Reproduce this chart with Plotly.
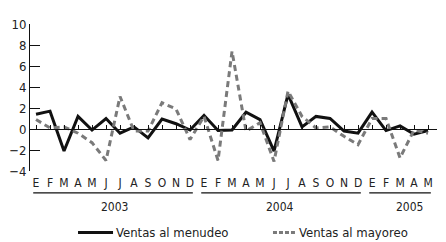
import plotly.graph_objects as go

months = ["E", "F", "M", "A", "M", "J", "J", "A", "S", "O", "N", "D",
          "E", "F", "M", "A", "M", "J", "J", "A", "S", "O", "N", "D",
          "E", "F", "M", "A", "M"]
years = ["2003", "2004", "2005"]
menudeo = [1.4, 1.7, -2.1, 1.2, -0.1, 1.0, -0.4, 0.2, -0.85, 0.95, 0.5, -0.1,
           1.3, -0.15, -0.1, 1.6, 0.9, -2.1, 3.3, 0.2, 1.2, 1.0, -0.2, -0.4,
           1.6, -0.15, 0.3, -0.5, -0.15]
mayoreo = [0.9, 0.1, 0.2, -0.4, -1.3, -3.0, 3.1, -0.2, -0.2, 2.5, 1.9, -1.0,
           1.2, -3.0, 7.4, -0.2, 0.6, -3.1, 3.6, 1.2, 0.1, 0.2, -0.7, -1.5,
           1.0, 1.0, -2.75, -0.1, -0.4]
yticks = [-4, -2, 0, 2, 4, 6, 8, 10]
series_names = ["Ventas al menudeo", "Ventas al mayoreo"]

FONT = "Liberation Sans Narrow, DejaVu Sans Condensed, Arial Narrow, sans-serif"
idx = list(range(len(months)))
SOLID = dict(color="#111111", width=3)
DASHED = dict(color="#7a7a7a", width=3, dash="6px,4px")

fig = go.Figure()
fig.add_trace(go.Scatter(x=idx, y=menudeo, mode="lines", name=series_names[0],
                         line=SOLID, showlegend=False))
fig.add_trace(go.Scatter(x=idx, y=mayoreo, mode="lines", name=series_names[1],
                         line=DASHED, showlegend=False))
# invisible trace for the zero-line axis
fig.add_trace(go.Scatter(x=idx, y=[0] * len(idx), xaxis="x2", mode="lines",
                         line=dict(width=0), showlegend=False, hoverinfo="skip"))

# year groups
groups = []
start = 0
for i in range(1, len(months) + 1):
    if i == len(months) or (months[i] == "E" and i != start):
        groups.append((start, i - 1))
        start = i
label_pos = [5.57, 17.4, 26.7]
for (a, b), yr, lp in zip(groups, years, label_pos):
    fig.add_shape(type="line", xref="x", yref="paper", x0=a - 0.2, x1=b + 0.2,
                  y0=-0.149, y1=-0.149, line=dict(color="#111111", width=1.2))
    fig.add_annotation(x=lp, y=-0.242, xref="x", yref="paper", text=yr,
                       xanchor="center", yanchor="middle",
                       showarrow=False, font=dict(size=12, color="#222222"))

# manual legend
leg_y = -0.418
for (x0, x1, tx), nm, ln in zip([(0.118, 0.204, 0.207), (0.597, 0.651, 0.656)],
                                series_names,
                                [SOLID, dict(color="#7a7a7a", width=3, dash="4px,2px")]):
    fig.add_shape(type="line", xref="paper", yref="paper", x0=x0, x1=x1,
                  y0=leg_y, y1=leg_y, line=ln)
    fig.add_annotation(x=tx, y=leg_y, xref="paper", yref="paper", text=nm,
                       xanchor="left", yanchor="middle", showarrow=False,
                       font=dict(size=13, color="#222222"))

xr = [-0.43, 28.64]
fig.update_layout(
    width=446, height=242,
    margin=dict(l=30, r=9, t=24, b=71, autoexpand=False),
    paper_bgcolor="white", plot_bgcolor="white",
    font=dict(family=FONT, size=13, color="#222222"),
    showlegend=False,
    xaxis=dict(range=xr, tickvals=idx, ticktext=months, showline=False, showgrid=False,
               zeroline=False, ticks="", tickfont=dict(size=12), ticklabelstandoff=3),
    xaxis2=dict(range=xr, overlaying="x", anchor="free", position=4 / 14, side="bottom",
                showline=True, linecolor="#111111", linewidth=1, ticks="inside",
                ticklen=4, tickcolor="#111111", tickvals=idx, showticklabels=False,
                showgrid=False, zeroline=False),
    yaxis=dict(range=[-4, 10], tickvals=yticks, showline=True, linecolor="#111111",
               linewidth=1, ticks="inside", ticklen=10, tickcolor="#111111",
               showgrid=False, zeroline=False, tickfont=dict(size=13)),
)
fig.write_html("out.html", config={"displayModeBar": False},
               post_script="document.body.style.margin='0';document.body.style.overflow='hidden';")
